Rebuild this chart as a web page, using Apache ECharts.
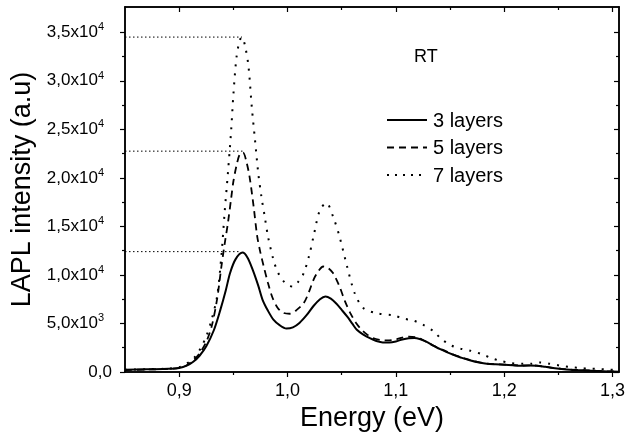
<!DOCTYPE html>
<html>
<head>
<meta charset="utf-8">
<script src="https://cdn.jsdelivr.net/npm/echarts@6/dist/echarts.min.js"></script>
<style>
html,body{margin:0;padding:0;background:#fff}
#chart{width:634px;height:437px}
</style>
</head>
<body>
<div id="chart"></div>
<script>
// 3 layers (solid)
const e3 = [0.850,0.870,0.890,0.900,0.907,0.913,0.919,0.925,0.932,0.938,0.943,0.947,0.952,0.9585,0.963,0.968,0.973,0.977,0.982,0.987,0.993,0.999,1.005,1.011,1.018,1.024,1.030,1.035,1.040,1.045,1.050,1.055,1.060,1.064,1.070,1.076,1.082,1.088,1.094,1.100,1.106,1.112,1.117,1.122,1.128,1.135,1.141,1.147,1.153,1.161,1.169,1.177,1.184,1.192,1.200,1.208,1.215,1.223,1.230,1.238,1.245,1.253,1.261,1.268,1.276,1.285,1.295,1.306]
const i3 = [220,280,330,420,650,1050,1700,2650,4300,6400,8400,10200,11600,12300,11800,10500,8900,7440,6300,5400,4800,4480,4600,5050,5900,6800,7500,7780,7550,7050,6400,5720,4950,4350,3850,3480,3200,3050,3050,3150,3350,3480,3500,3400,3120,2700,2350,2050,1780,1450,1190,980,850,790,750,700,650,660,650,530,420,320,240,200,160,110,60,30]
// 5 layers (dashed)
const e5 = [0.850,0.870,0.890,0.900,0.907,0.913,0.919,0.925,0.930,0.935,0.939,0.942,0.945,0.948,0.950,0.953,0.956,0.959,0.962,0.965,0.969,0.972,0.975,0.978,0.982,0.986,0.991,0.996,1.002,1.008,1.015,1.020,1.024,1.028,1.033,1.037,1.042,1.048,1.053,1.058,1.063,1.067,1.073,1.079,1.086,1.092,1.100,1.106,1.112,1.118,1.124,1.130,1.135,1.141,1.147,1.153,1.161,1.169,1.177,1.184,1.192,1.200,1.208,1.215,1.223,1.230,1.238,1.245,1.253,1.261,1.268,1.276,1.285,1.295,1.306]
const i5 = [200,260,320,420,700,1200,1950,3100,4700,7500,10870,13200,15340,17900,19600,21300,22450,22600,21700,20100,16800,14000,12300,10900,9160,7700,6600,6100,6000,6350,7100,8300,9500,10300,10870,10750,10190,8810,7300,6070,5100,4530,3900,3500,3300,3250,3350,3550,3650,3600,3350,3000,2700,2400,2100,1800,1480,1210,1000,870,800,760,710,670,680,660,540,430,330,250,210,170,120,70,40]
// 7 layers (dotted)
const e7 = [0.850,0.870,0.890,0.900,0.905,0.910,0.915,0.920,0.925,0.930,0.935,0.939,0.942,0.945,0.948,0.950,0.953,0.956,0.958,0.961,0.964,0.967,0.970,0.973,0.976,0.979,0.982,0.987,0.991,0.996,1.001,1.005,1.010,1.015,1.020,1.024,1.030,1.036,1.042,1.048,1.055,1.062,1.070,1.082,1.098,1.107,1.116,1.125,1.135,1.142,1.151,1.160,1.169,1.179,1.188,1.196,1.206,1.216,1.225,1.233,1.242,1.252,1.261,1.270,1.279,1.288,1.296,1.306]
const i7 = [230,290,350,500,750,1100,1600,2500,3660,5400,7780,12000,16500,20500,24900,28500,32500,34200,34500,33500,31470,27340,23910,20490,18000,16000,13960,11560,10300,9400,8900,8810,9300,10190,12000,13960,16710,17400,16030,13960,10870,8130,6590,6070,5830,5500,5310,4870,4180,3400,2740,2400,2190,1850,1440,1160,930,850,850,990,850,650,510,410,340,310,240,200]

// peak guide lines: level and end energy
const refLevels = [34500, 22750, 12400]
const refEnds = [0.958, 0.959, 0.957]

const xMajor = [0.9, 1.0, 1.1, 1.2, 1.3]
const xMinor = [0.95, 1.05, 1.15, 1.25]
const yMajor = [0, 5000, 10000, 15000, 20000, 25000, 30000, 35000]
const yMinor = [2500, 7500, 12500, 17500, 22500, 27500, 32500]

const names = ['3 layers', '5 layers', '7 layers']

const FONT = 'Liberation Sans, Arial, sans-serif'
const X_MIN = 0.85, X_MAX = 1.306, Y_MIN = 0, Y_MAX = 37600

function zip(a, b){ return a.map((v, k) => [v, b[k]]) }

function yLabel(v){
    if (v === 0) return '0,0'
    const exp = Math.floor(Math.log10(v) + 1e-9)
    const m = (v / Math.pow(10, exp)).toFixed(1).replace('.', ',')
    return '{b|' + m + 'x10}{s|' + exp + '}'
}

const lineAxis = { show: true, onZero: false, lineStyle: { color: '#000', width: 1.5 } }

function xAx(position, values, len, inside, labels){
    return {
        type: 'value', min: X_MIN, max: X_MAX, position: position,
        axisLine: lineAxis,
        splitLine: { show: false },
        axisTick: { show: true, inside: inside, length: len, customValues: values, lineStyle: { color: '#000', width: 1.2 } },
        axisLabel: labels ? {
            show: true, customValues: xMajor, margin: 10, color: '#000', fontSize: 18, fontFamily: FONT,
            formatter: v => v.toFixed(1).replace('.', ',')
        } : { show: false }
    }
}
function yAx(position, values, len, inside, labels){
    return {
        type: 'value', min: Y_MIN, max: Y_MAX, position: position,
        axisLine: lineAxis,
        splitLine: { show: false },
        axisTick: { show: true, inside: inside, length: len, customValues: values, lineStyle: { color: '#000', width: 1.2 } },
        axisLabel: labels ? {
            show: true, customValues: yMajor, margin: 13, color: '#000', fontFamily: FONT,
            formatter: yLabel,
            fontSize: 17,
            rich: {
                b: { fontSize: 17, fontFamily: FONT, color: '#000' },
                s: { fontSize: 11, fontFamily: FONT, color: '#000', verticalAlign: 'top', padding: [0, 8, 10, 0] }
            }
        } : { show: false }
    }
}

const xAxes = [
    Object.assign(xAx('bottom', xMajor, 5, false, true), {
        name: 'Energy (eV)', nameLocation: 'middle', nameGap: 32,
        nameTextStyle: { color: '#000', fontSize: 27, fontFamily: FONT }
    }),
    xAx('bottom', xMinor, 3, false, false),
    xAx('top', xMajor, 5, true, false),
    xAx('top', xMinor, 3, true, false)
]
const yAxes = [
    Object.assign(yAx('left', yMajor, 5, false, true), {
        name: 'LAPL intensity (a.u)', nameLocation: 'middle', nameGap: 77,
        nameTextStyle: { color: '#000', fontSize: 27, fontFamily: FONT, padding: [0, 0, 12, 0] }
    }),
    yAx('left', yMinor, 3, false, false),
    yAx('right', yMajor, 5, true, false),
    yAx('right', yMinor, 3, true, false)
]

const styles = [
    { type: 'solid', width: 2 },
    { type: [7, 5], width: 1.8 },
    { type: [2, 7], width: 2 }
]
const datasets = [zip(e3, i3), zip(e5, i5), zip(e7, i7)]

const series = names.map((n, k) => ({
    name: n, type: 'line', data: datasets[k], smooth: 0.3,
    symbol: 'none', showSymbol: false, animation: false,
    lineStyle: Object.assign({ color: '#000', cap: 'butt' }, styles[k]),
    itemStyle: { color: '#000' }
}))
refLevels.forEach((lv, k) => {
    series.push({
        type: 'line', data: [[X_MIN, lv], [refEnds[k], lv]], symbol: 'none', animation: false,
        silent: true, lineStyle: { color: '#000', width: 1, type: [1.5, 2.5] }
    })
})

// legend key samples (legend text comes from the legend component)
const keyY = [120, 147.5, 175]
const keyDash = [null, [7, 5], [2, 6]]
const keys = keyY.map((y, k) => ({
    type: 'line', silent: true,
    shape: { x1: 387, y1: y, x2: 427, y2: y },
    style: { stroke: '#000', lineWidth: 2, lineDash: keyDash[k] }
}))

const chart = echarts.init(document.getElementById('chart'))
chart.setOption({
    backgroundColor: '#fff',
    animation: false,
    grid: { left: 125, right: 15, top: 7, bottom: 65 },
    xAxis: xAxes,
    yAxis: yAxes,
    legend: {
        data: names.map(n => ({ name: n, icon: 'none' })),
        orient: 'vertical', left: 378, top: 106,
        itemWidth: 45, itemHeight: 20, itemGap: 7.5,
        textStyle: { color: '#000', fontSize: 20, fontFamily: FONT },
        selectedMode: false
    },
    graphic: [{
        type: 'text', left: 414, top: 48,
        style: { text: 'RT', fill: '#000', fontSize: 18, fontFamily: FONT }
    }].concat(keys),
    series: series
})
</script>
</body>
</html>
